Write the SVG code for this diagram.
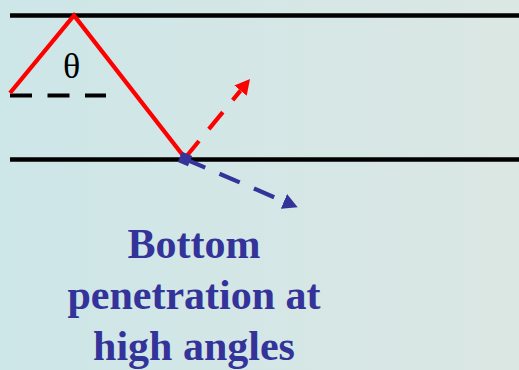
<svg xmlns="http://www.w3.org/2000/svg" width="519" height="370" viewBox="0 0 519 370">
  <defs>
    <linearGradient id="bg" x1="0" y1="0" x2="1" y2="0">
      <stop offset="0" stop-color="#cde6e8"/>
      <stop offset="1" stop-color="#dbe7e3"/>
    </linearGradient>
    <marker id="arrRed" markerUnits="userSpaceOnUse" markerWidth="16" markerHeight="16" refX="0" refY="8" orient="auto" viewBox="0 0 16 16">
      <path d="M0,0 L15,8 L0,16 z" fill="#ff0000"/>
    </marker>
    <marker id="arrBlue" markerUnits="userSpaceOnUse" markerWidth="16" markerHeight="16" refX="0" refY="8" orient="auto" viewBox="0 0 16 16">
      <path d="M0,0 L15,8 L0,16 z" fill="#333399"/>
    </marker>
  </defs>
  <style>
    .bound { stroke: #000; stroke-width: 4.5; fill: none; }
    .dash { stroke-dasharray: 22 15.5; fill: none; stroke-width: 4.2; }
    .label { font-family: "Liberation Serif", "Times New Roman", serif; font-weight: bold; font-size: 42px; fill: #333399; text-anchor: middle; }
  </style>
  <rect x="0" y="0" width="519" height="370" fill="url(#bg)"/>
  <g id="boundaries">
    <line class="bound" x1="10" y1="15.5" x2="519" y2="15.5"/>
    <line class="bound" x1="10" y1="159.5" x2="519" y2="159.5"/>
  </g>
  <g id="normal">
    <line class="dash" stroke="#000" x1="10" y1="95.5" x2="106" y2="95.5"/>
  </g>
  <g id="theta">
    <text x="71.5" y="78" font-family="Liberation Serif, serif" font-size="36" fill="#000" text-anchor="middle">θ</text>
  </g>
  <g id="connectors">
    <polyline points="10,93 74,15.5 185,158" fill="none" stroke="#ff0000" stroke-width="4.3" stroke-linejoin="miter"/>
    <line class="dash" stroke="#ff0000" x1="185" y1="158" x2="240.5" y2="90.6" marker-end="url(#arrRed)"/>
    <line class="dash" stroke="#333399" x1="185" y1="159" x2="283.9" y2="201.4" marker-end="url(#arrBlue)"/>
    <rect x="179.5" y="153.5" width="11" height="11" fill="#333399" transform="rotate(23 185 159)"/>
  </g>
  <g id="caption">
    <text class="label" x="194" y="258">Bottom</text>
    <text class="label" x="194" y="309">penetration at</text>
    <text class="label" x="194" y="360">high angles</text>
  </g>
</svg>
